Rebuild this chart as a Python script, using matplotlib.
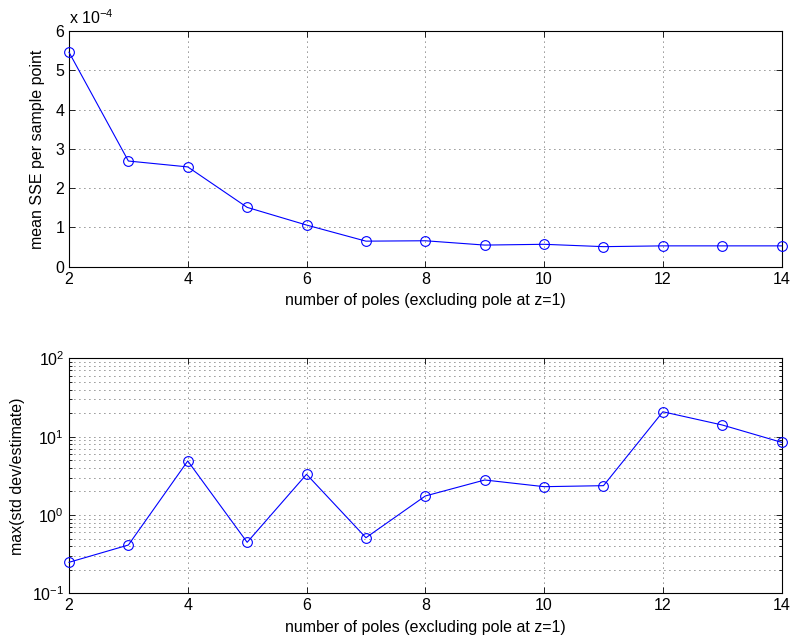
import matplotlib
matplotlib.use("Agg")
import matplotlib.pyplot as plt
from matplotlib.ticker import FixedLocator, FuncFormatter, LogLocator, NullFormatter

plt.rcParams['font.family'] = ['Liberation Sans', 'DejaVu Sans']
plt.rcParams['mathtext.fontset'] = 'custom'
plt.rcParams['mathtext.rm'] = 'Liberation Sans'

# number of poles (excluding the pole at z=1)
poles = [2, 3, 4, 5, 6, 7, 8, 9, 10, 11, 12, 13, 14]
# mean sum of squared errors per sample point
mean_sse = [5.46e-4, 2.69e-4, 2.54e-4, 1.51e-4, 1.06e-4, 0.65e-4, 0.66e-4,
            0.55e-4, 0.57e-4, 0.51e-4, 0.53e-4, 0.53e-4, 0.53e-4]
# maximum ratio of standard deviation to parameter estimate
max_ratio = [0.249, 0.414, 4.9, 0.448, 3.31, 0.513, 1.75,
             2.80, 2.30, 2.37, 20.8, 14.1, 8.47]

xticks = [2, 4, 6, 8, 10, 12, 14]
sse_ticks = [0, 1e-4, 2e-4, 3e-4, 4e-4, 5e-4, 6e-4]

FS = 11.5

fig = plt.figure(figsize=(7.93, 6.38), dpi=100)
ax1 = fig.add_axes([0.087, 0.582, 0.8987, 0.3694])
ax2 = fig.add_axes([0.087, 0.070, 0.8987, 0.3683])

line_kw = dict(color='#0000ff', linewidth=0.8, marker='o', markersize=7,
               markerfacecolor='none', markeredgecolor='#0000ff',
               markeredgewidth=0.8, clip_on=False, zorder=3)
grid_kw = dict(color='#222222', linestyle=(0, (1, 5)), linewidth=0.6)

# upper panel: fit error
ax1.plot(poles, mean_sse, **line_kw)
ax1.set_xlim(2, 14)
ax1.set_ylim(0, 6e-4)
ax1.xaxis.set_major_locator(FixedLocator(xticks))
ax1.yaxis.set_major_locator(FixedLocator(sse_ticks))
ax1.yaxis.set_major_formatter(FuncFormatter(lambda v, p: f"{v / 1e-4:.0f}"))
ax1.grid(True, which='major', **grid_kw)
ax1.set_xlabel('number of poles (excluding pole at z=1)', fontsize=FS, labelpad=5)
ax1.set_ylabel('mean SSE per sample point', fontsize=FS, labelpad=7)
ax1.text(0.0, 1.015, r'x 10$^{-4}$', transform=ax1.transAxes, fontsize=FS,
         ha='left', va='bottom')

# lower panel: relative parameter uncertainty
ax2.plot(poles, max_ratio, **line_kw)
ax2.set_yscale('log')
ax2.set_xlim(2, 14)
ax2.set_ylim(0.1, 100)
ax2.xaxis.set_major_locator(FixedLocator(xticks))
ax2.yaxis.set_major_locator(LogLocator(base=10, numticks=10))
ax2.yaxis.set_minor_locator(LogLocator(base=10, subs=range(2, 10), numticks=20))
ax2.yaxis.set_minor_formatter(NullFormatter())
ax2.grid(True, which='major', axis='both', **grid_kw)
ax2.grid(True, which='minor', axis='y', **grid_kw)
ax2.set_xlabel('number of poles (excluding pole at z=1)', fontsize=FS, labelpad=5)
ax2.set_ylabel('max(std dev/estimate)', fontsize=FS, labelpad=5)

for ax in (ax1, ax2):
    ax.tick_params(which='both', direction='in', top=True, right=True,
                   labelsize=FS, width=0.6)
    ax.tick_params(which='major', length=4)
    ax.tick_params(which='minor', length=2)
    for s in ax.spines.values():
        s.set_linewidth(0.8)
    ax.set_axisbelow(True)

fig.savefig('out.png', dpi=100)
